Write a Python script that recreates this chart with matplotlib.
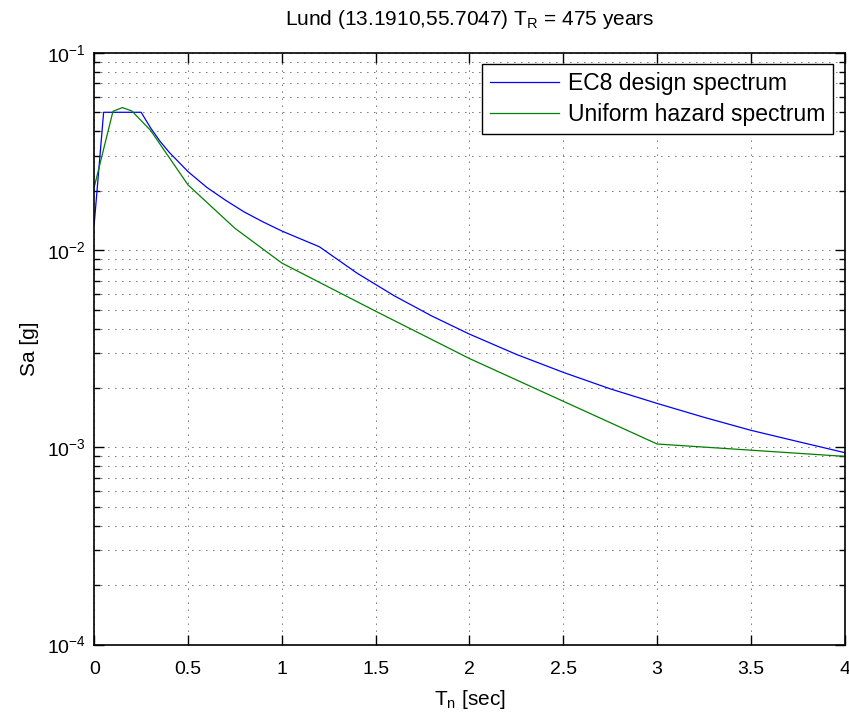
import matplotlib.pyplot as plt

plt.rcParams['font.family'] = ['Liberation Sans', 'DejaVu Sans']
plt.rcParams['mathtext.default'] = 'regular'
plt.rcParams['font.size'] = 14

# Espectro de projeto EC8 (periodo em s, Sa em g)
T_ec8 = [0.0, 0.05, 0.25, 0.3, 0.35, 0.4, 0.5, 0.6, 0.7, 0.8, 0.9, 1.0, 1.1, 1.2,
         1.4, 1.6, 1.8, 2.0, 2.25, 2.5, 2.75, 3.0, 3.25, 3.5, 3.75, 4.0]
Sa_ec8 = [0.0136, 0.05, 0.05, 0.0417, 0.0357, 0.0313, 0.025, 0.0208, 0.0179, 0.0156,
          0.0139, 0.0125, 0.0114, 0.0104, 0.00765, 0.00586, 0.00463, 0.00375,
          0.00296, 0.0024, 0.00198, 0.00167, 0.00142, 0.00122, 0.00107, 0.00094]

# Espectro de perigo uniforme
T_uhs = [0.0, 0.1, 0.15, 0.2, 0.3, 0.5, 0.75, 1.0, 1.5, 2.0, 3.0, 4.0]
Sa_uhs = [0.0209, 0.0506, 0.0528, 0.0508, 0.0405, 0.0214, 0.0129, 0.0086,
          0.0049, 0.00282, 0.00104, 0.0009]

fig = plt.figure(figsize=(8.49, 7.15), dpi=100)
ax = fig.add_axes([0.111, 0.0985, 0.884, 0.8275])

ax.semilogy(T_ec8, Sa_ec8, color=(0, 0, 1), linewidth=0.9, label='EC8 design spectrum')
ax.semilogy(T_uhs, Sa_uhs, color=(0, 0.5, 0), linewidth=0.9, label='Uniform hazard spectrum')

ax.set_xlim(0, 4)
ax.set_ylim(1e-4, 1e-1)
ax.set_xticks([0, 0.5, 1, 1.5, 2, 2.5, 3, 3.5, 4])
ax.set_xticklabels(['0', '0.5', '1', '1.5', '2', '2.5', '3', '3.5', '4'])

# Grade pontilhada (maior e menor)
grid_style = dict(color='black', linestyle=(0, (0.8, 6.4)), linewidth=0.7)
ax.grid(True, which='major', axis='both', **grid_style)
ax.grid(True, which='minor', axis='y', **grid_style)

ax.tick_params(which='both', direction='in', top=True, right=True, width=1.0)
ax.tick_params(which='major', length=7)
ax.tick_params(which='minor', length=4)
ax.tick_params(axis='x', pad=12)
ax.tick_params(axis='y', pad=6)
for s in ax.spines.values():
    s.set_linewidth(1.2)

ax.set_title('Lund (13.1910,55.7047) $T_R$ = 475 years', fontsize=15, pad=20)
ax.set_xlabel('$T_n$ [sec]', fontsize=15, labelpad=7)
ax.set_ylabel('Sa [g]', fontsize=15, labelpad=6)

leg = ax.legend(loc='upper right', fancybox=False, edgecolor='black',
                framealpha=1, handlelength=3.0, handletextpad=0.4,
                borderpad=0.35, fontsize=16.5, labelspacing=0.35,
                borderaxespad=0.5)
leg.get_frame().set_linewidth(1.0)

plt.savefig('out.png', dpi=100)
